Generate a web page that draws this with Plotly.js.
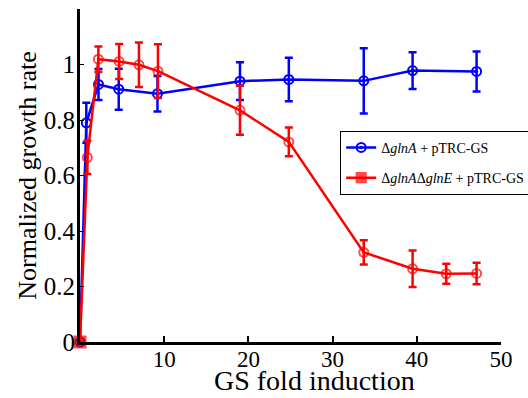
<!DOCTYPE html>
<html>
<head>
<meta charset="utf-8">
<script src="https://cdn.plot.ly/plotly-3.0.1.min.js"></script>
<style>html,body{margin:0;padding:0;background:#fff;}#chart{width:528px;height:398px;}</style>
</head>
<body>
<div id="chart"></div>
<script>
// Series 1: ΔglnA + pTRC-GS
const xBlue = [0, 0.75, 2.2, 4.6, 9.2, 19.0, 24.8, 33.7, 39.5, 47.1];
const yBlue = [0, 0.79, 0.928, 0.911, 0.895, 0.94, 0.946, 0.941, 0.978, 0.975];
const eBlue = [0, 0.072, 0.056, 0.074, 0.064, 0.068, 0.078, 0.118, 0.066, 0.072];
// Series 2: ΔglnAΔglnE + pTRC-GS
const xRed = [0, 0.87, 2.18, 4.65, 7.0, 9.26, 19.0, 24.8, 33.7, 39.5, 43.5, 47.1];
const yRed = [0, 0.665, 1.019, 1.011, 0.999, 0.976, 0.835, 0.721, 0.323, 0.264, 0.246, 0.247];
const eRed = [0, 0.06, 0.046, 0.063, 0.08, 0.097, 0.088, 0.052, 0.044, 0.066, 0.036, 0.039];
const nameBlue = 'Δ<i>glnA</i> + pTRC-GS';
const nameRed = 'Δ<i>glnA</i>Δ<i>glnE</i> + pTRC-GS';
const xTitle = 'GS fold induction';
const yTitle = 'Normalized growth rate';
const xTicks = [0, 10, 20, 30, 40, 50];
const xTickText = ['', '10', '20', '30', '40', '50'];
const yTicks = [0, 0.2, 0.4, 0.6, 0.8, 1];
const yTickText = ['0', '0.2', '0.4', '0.6', '0.8', '1'];

const serif = 'Liberation Serif';
const blueSym = xBlue.map((v, i) => 'circle-open-dot');
const redSym = xRed.map((v, i) => i === 0 ? 'square' : 'circle-open-dot');

const traces = [
  {
    x: xBlue, y: yBlue, name: nameBlue, type: 'scatter', mode: 'lines+markers', legendgroup: 'a',
    line: {color: '#0000ff', width: 2.5},
    marker: {color: '#0000ff', size: 9, symbol: blueSym, line: {color: '#0000ff', width: 2}},
    error_y: {type: 'data', array: eBlue, visible: true, color: '#0000ff', thickness: 2.5, width: 4},
    cliponaxis: false
  },
  {
    x: xRed, y: yRed, name: nameRed, type: 'scatter', mode: 'lines+markers', legendgroup: 'b',
    line: {color: '#ff0000', width: 2.5},
    marker: {color: '#ff0000', size: redSym.map((s) => s === 'square' ? 11 : 9), symbol: redSym, line: {color: '#ff0000', width: 2}},
    error_y: {type: 'data', array: eRed, visible: true, color: '#ff0000', thickness: 2.5, width: 4},
    cliponaxis: false
  }
];

const layout = {
  width: 528, height: 398,
  margin: {l: 80, r: 27, t: 9, b: 56, autoexpand: false},
  paper_bgcolor: '#fff', plot_bgcolor: '#fff',
  font: {family: serif, color: '#000'},
  showlegend: true,
  legend: {
    x: 0.618, y: 0.634, xanchor: 'left', yanchor: 'top',
    bgcolor: '#fff', bordercolor: '#000', borderwidth: 1,
    font: {family: serif, size: 14, color: '#000'},
    itemwidth: 30, traceorder: 'grouped', tracegroupgap: 9
  },
  annotations: [{
    text: xTitle, xref: 'paper', yref: 'paper', x: 0.558, y: -0.169,
    xanchor: 'center', yanchor: 'bottom', showarrow: false,
    font: {family: serif, size: 28, color: '#000'}
  }],
  xaxis: {
    range: [0, 50], tickvals: xTicks, ticktext: xTickText, automargin: false,
    ticks: 'inside', ticklen: 6, tickwidth: 2, tickcolor: '#000',
    showline: true, linecolor: '#000', linewidth: 3, showgrid: false, zeroline: false,
    tickfont: {family: serif, size: 23, color: '#000'}, ticklabelstandoff: -6
  },
  yaxis: {
    range: [0, 1.2], tickvals: yTicks, ticktext: yTickText, automargin: false,
    ticks: 'inside', ticklen: 4, tickwidth: 1, tickcolor: '#000',
    showline: true, linecolor: '#000', linewidth: 3, showgrid: false, zeroline: false,
    tickfont: {family: serif, size: 25, color: '#000'}, ticklabelstandoff: -3,
    title: {text: yTitle, font: {family: serif, size: 26, color: '#000'}, standoff: 0}
  }
};

Plotly.newPlot('chart', traces, layout, {displayModeBar: false, staticPlot: true});
</script>
</body>
</html>
